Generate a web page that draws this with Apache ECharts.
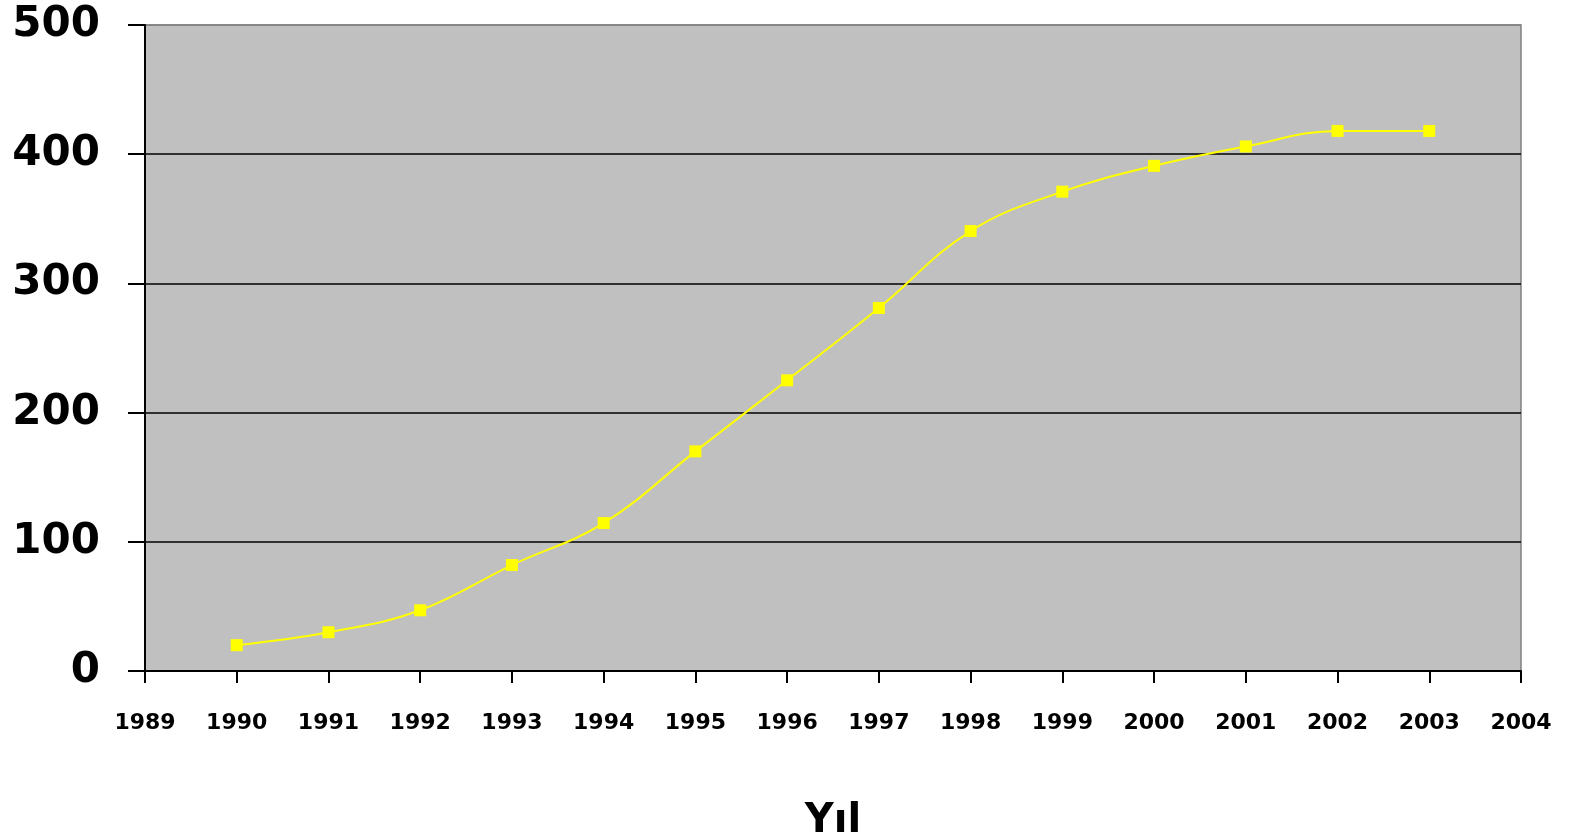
<!DOCTYPE html>
<html>
<head>
<meta charset="utf-8">
<script src="https://cdn.jsdelivr.net/npm/echarts@6/dist/echarts.min.js"></script>
<style>
html,body{margin:0;padding:0;background:#fff;}
#chart{width:1586px;height:840px;}
</style>
</head>
<body>
<div id="chart"></div>
<script>
const years = [1990,1991,1992,1993,1994,1995,1996,1997,1998,1999,2000,2001,2002,2003];
const values = [20,30,47,82,114.5,170,225,281,340.5,371,391,406,418,418];
const xAxisName = 'Yıl';

const chart = echarts.init(document.getElementById('chart'));
const font = '"DejaVu Sans", sans-serif';
chart.setOption({
  animation: false,
  backgroundColor: '#ffffff',
  grid: {left: 145, right: 65, top: 25, bottom: 169, containLabel: false, outerBoundsMode: 'none', show: true, backgroundColor: '#C0C0C0', borderColor: '#808080', borderWidth: 1.5},
  xAxis: {
    type: 'value', min: 1989, max: 2004, interval: 1,
    name: xAxisName, nameLocation: 'middle', nameGap: 131,
    nameTextStyle: {fontFamily: font, fontWeight: 'bold', fontSize: 40, color: '#000', verticalAlign: 'top'},
    axisLine: {show: true, onZero: false, lineStyle: {color: '#000', width: 2}},
    axisTick: {show: true, length: 12, lineStyle: {color: '#000', width: 2}},
    axisLabel: {margin: 41, fontFamily: font, fontWeight: 'bold', fontSize: 22, color: '#000', formatter: v => String(v)},
    splitLine: {show: false}
  },
  yAxis: {
    type: 'value', min: 0, max: 500, interval: 100,
    axisLine: {show: true, lineStyle: {color: '#000', width: 2}},
    axisTick: {show: true, length: 17, lineStyle: {color: '#000', width: 2}},
    axisLabel: {margin: 45, fontFamily: font, fontWeight: 'bold', fontSize: 42, color: '#000'},
    splitLine: {show: true, lineStyle: {color: ['#000','#000','#000','#000','#000','#808080'], width: 1.5}}
  },
  series: [{
    type: 'line',
    data: years.map((y, i) => [y, values[i]]),
    smooth: 0.4,
    symbol: 'rect', symbolSize: 12,
    itemStyle: {color: '#FFFF00'},
    lineStyle: {color: '#FFFF00', width: 2}
  }]
});
</script>
</body>
</html>
